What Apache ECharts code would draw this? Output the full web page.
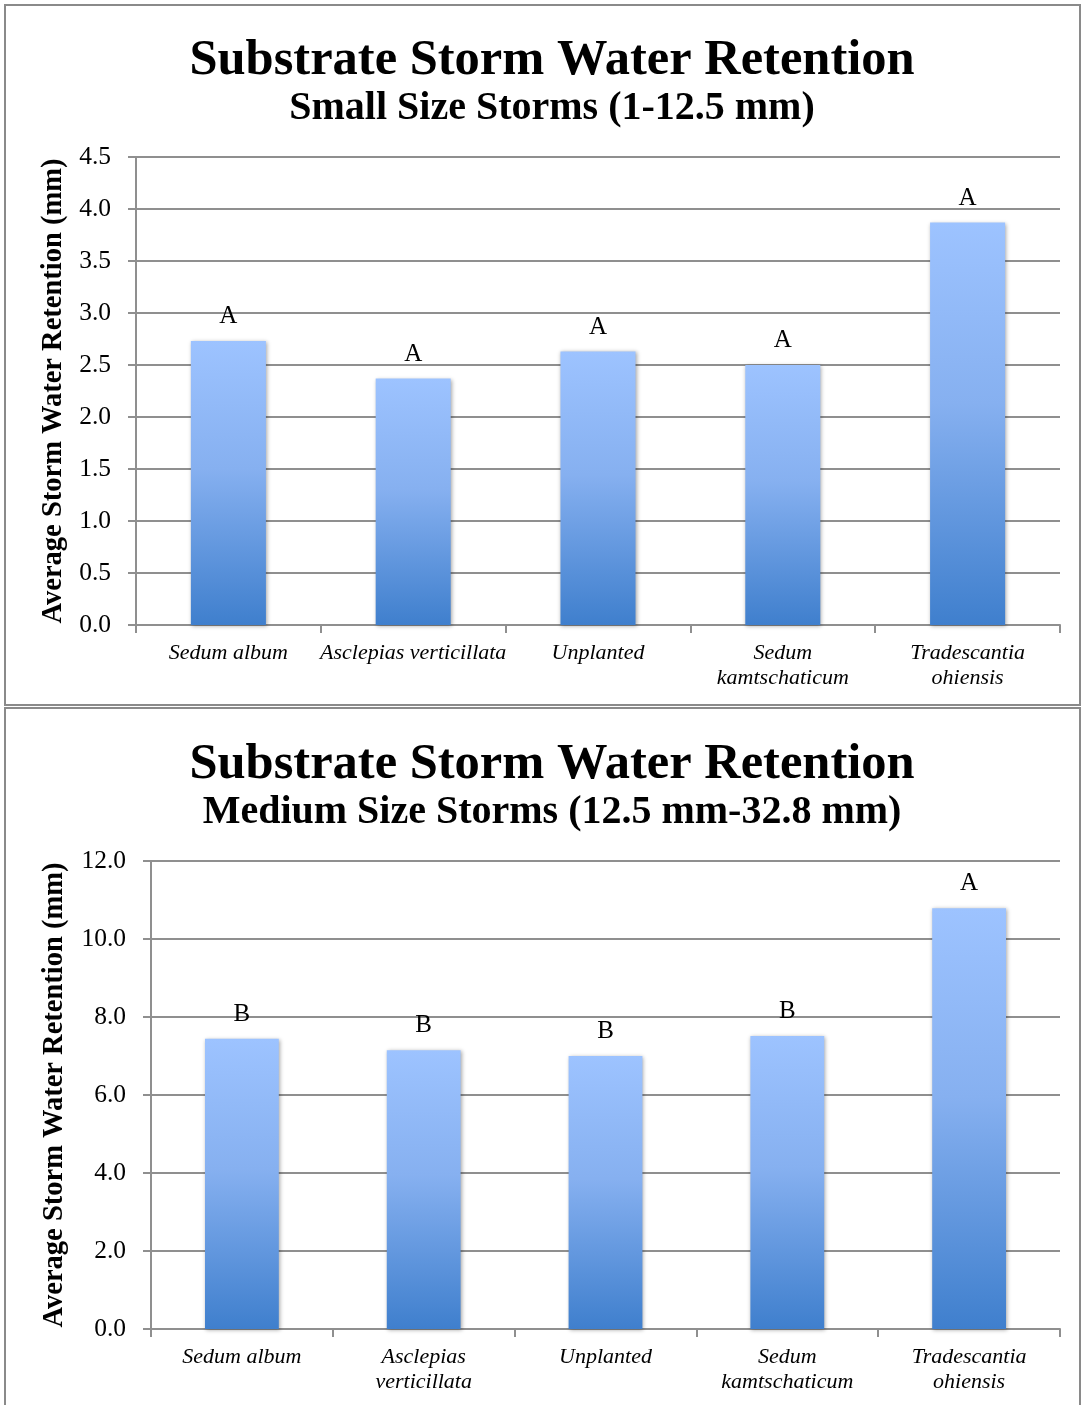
<!DOCTYPE html>
<html>
<head>
<meta charset="utf-8">
<script src="https://cdn.jsdelivr.net/npm/echarts@6/dist/echarts.min.js"></script>
<style>
  html, body { margin: 0; padding: 0; background: #ffffff; }
  #chart { width: 1082px; height: 1405px; }
</style>
</head>
<body>
<div id="chart"></div>
<script>
// Storm water retention by substrate planting, small and medium storms
const categoriesSmall = ['Sedum album', 'Asclepias verticillata', 'Unplanted', 'Sedum\nkamtschaticum', 'Tradescantia\nohiensis'];
const categoriesMedium = ['Sedum album', 'Asclepias\nverticillata', 'Unplanted', 'Sedum\nkamtschaticum', 'Tradescantia\nohiensis'];
const retentionSmall = [2.73, 2.37, 2.63, 2.50, 3.87];
const retentionMedium = [7.44, 7.15, 7.00, 7.51, 10.79];
const lettersSmall = ['A', 'A', 'A', 'A', 'A'];
const lettersMedium = ['B', 'B', 'B', 'B', 'A'];

const SERIF = '"Liberation Serif", "DejaVu Serif", serif';
const GRID_COLOR = '#8f8f8f';

const chart = echarts.init(document.getElementById('chart'), null, { renderer: 'canvas' });

function barGradient() {
  return new echarts.graphic.LinearGradient(0, 0, 0, 1, [
    { offset: 0, color: '#9dc3ff' },
    { offset: 0.45, color: '#86b0f0' },
    { offset: 1, color: '#3f7fcd' }
  ]);
}

function yAxis(gridIndex, max, interval, nameGap) {
  return {
    type: 'value', gridIndex, min: 0, max, interval,
    name: 'Average Storm Water Retention (mm)',
    nameLocation: 'middle', nameGap,
    nameTextStyle: { fontFamily: SERIF, fontWeight: 'bold', fontSize: 28.5, color: '#000' },
    axisLine: { show: true, lineStyle: { color: GRID_COLOR, width: 2 } },
    axisTick: { show: true, length: 8, lineStyle: { color: GRID_COLOR, width: 2 } },
    axisLabel: { margin: 25, fontFamily: SERIF, fontSize: 25.5, color: '#000',
      formatter: v => v.toFixed(1) },
    splitLine: { show: true, lineStyle: { color: GRID_COLOR, width: 2 } }
  };
}

function xAxis(gridIndex, data) {
  return {
    type: 'category', gridIndex, data,
    axisLine: { show: true, lineStyle: { color: GRID_COLOR, width: 2 } },
    axisTick: { show: true, length: 8, alignWithLabel: false, lineStyle: { color: GRID_COLOR, width: 2 } },
    axisLabel: { interval: 0, margin: 16, fontFamily: SERIF, fontStyle: 'italic',
      fontSize: 22, lineHeight: 25, color: '#000' },
    splitLine: { show: false }
  };
}

function barSeries(idx, data, letters) {
  return {
    type: 'bar', xAxisIndex: idx, yAxisIndex: idx, data,
    barWidth: '40.6%',
    itemStyle: {
      color: barGradient(),
      shadowBlur: 4, shadowColor: 'rgba(0,0,0,0.35)', shadowOffsetX: 1, shadowOffsetY: 1
    },
    label: {
      show: true, position: 'top', distance: 12,
      fontFamily: SERIF, fontSize: 25, color: '#000',
      formatter: p => letters[p.dataIndex]
    },
    silent: true, animation: false
  };
}

function titleBlock(text, cy, size, bold) {
  return {
    text, left: 547, top: cy - size / 2, textAlign: 'center',
    textStyle: { fontFamily: SERIF, fontWeight: bold, fontSize: size, lineHeight: size, color: '#000' }
  };
}

chart.setOption({
  animation: false,
  title: [
    titleBlock('Substrate Storm Water Retention', 56, 50.5, 'bold'),
    titleBlock('Small Size Storms (1-12.5 mm)', 104, 40, 'bold'),
    titleBlock('Substrate Storm Water Retention', 760, 50.5, 'bold'),
    titleBlock('Medium Size Storms (12.5 mm-32.8 mm)', 808, 40, 'bold')
  ],
  graphic: [
    { type: 'rect', shape: { x: 5, y: 5, width: 1075, height: 700 }, silent: true,
      style: { fill: 'none', stroke: '#8a8a8a', lineWidth: 2 } },
    { type: 'rect', shape: { x: 5, y: 708, width: 1075, height: 700 }, silent: true,
      style: { fill: 'none', stroke: '#8a8a8a', lineWidth: 2 } }
  ],
  grid: [
    { left: 136, right: 22, top: 157, height: 468 },
    { left: 151, right: 22, top: 861, height: 468 }
  ],
  xAxis: [xAxis(0, categoriesSmall), xAxis(1, categoriesMedium)],
  yAxis: [yAxis(0, 4.5, 0.5, 67), yAxis(1, 12, 2, 82)],
  series: [
    barSeries(0, retentionSmall, lettersSmall),
    barSeries(1, retentionMedium, lettersMedium)
  ]
});
</script>
</body>
</html>
